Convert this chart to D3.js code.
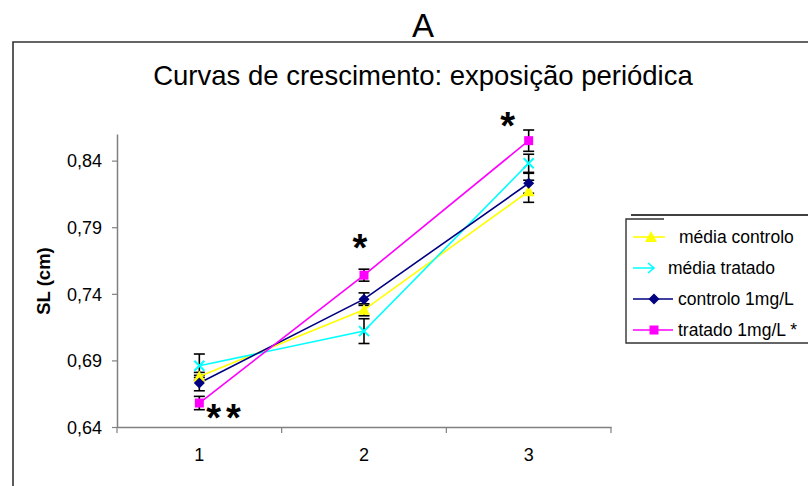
<!DOCTYPE html>
<html><head><meta charset="utf-8">
<script src="https://cdn.jsdelivr.net/npm/d3@7"></script>
<style>
html,body{margin:0;padding:0;background:#fff;}
svg{display:block;font-family:"Liberation Sans",Arial,sans-serif;}
</style></head>
<body><svg id="c" width="808" height="486"></svg>
<script>
const categories = ["1","2","3"];
const yTicks = [0.64,0.69,0.74,0.79,0.84];
const seriesNames = ["média controlo","média tratado","controlo 1mg/L","tratado 1mg/L *"];
const mediaControlo = [0.678,0.728,0.817];
const mediaTratado  = [0.686,0.712,0.838];
const controlo1     = [0.673,0.736,0.823];
const tratado1      = [0.658,0.754,0.855];
const errControlo   = [0.003,0.0045,0.0083];
const errTratado    = [0.0088,0.0093,0.0068];
const errControlo1  = [0.0058,0.0047,0.0075];
const errTratado1   = [0.005,0.0045,0.008];
const signifLabels = ["**","*","*"];

const colors = ["#FFFF00","#00FFFF","#000080","#FF00FF"];
const markers = ["triangle","x","diamond","square"];
const values = [mediaControlo,mediaTratado,controlo1,tratado1];
const errs = [errControlo,errTratado,errControlo1,errTratado1];

const svg = d3.select("#c");
const x = d3.scaleBand().domain(categories).range([117,611]);
const y = d3.scaleLinear().domain([0.64,0.86]).range([427,134]);
const cx = c => x(c)+x.bandwidth()/2;

// outer frame
svg.append("path").attr("d","M13,490 L13,42 L812,42").attr("fill","none").attr("stroke","#333").attr("stroke-width",1.6);
// "A"
svg.append("text").attr("x",423).attr("y",37).attr("text-anchor","middle").attr("font-size",33).text("A");
// title
svg.append("text").attr("x",423).attr("y",85).attr("text-anchor","middle").attr("font-size",27.5).text("Curvas de crescimento: exposição periódica");

// axes
const fmt = d => d3.format(".2f")(d).replace(".",",");
const yAx = svg.append("g").attr("transform","translate(117,0)")
  .call(d3.axisLeft(y).tickValues(yTicks).tickFormat(fmt).tickSize(5).tickSizeOuter(0));
const xAx = svg.append("g").attr("transform","translate(0,427)")
  .call(d3.axisBottom(x).tickSize(0).tickSizeOuter(0));
[yAx,xAx].forEach(a=>{a.select(".domain").attr("stroke","#808080").attr("stroke-width",1.5);
  a.selectAll(".tick line").attr("stroke","#808080").attr("stroke-width",1.2);
  a.selectAll("text").attr("font-family","Liberation Sans, Arial").attr("font-size",18).attr("fill","#000");});
yAx.selectAll("text").attr("x",-15).attr("dy","0.35em");
xAx.selectAll("text").attr("y",21).attr("dy","0.71em");
// x tick marks at band boundaries
const bounds = categories.map(c=>x(c)).concat([x(categories[2])+x.bandwidth()]);
svg.append("g").selectAll("line").data(bounds).join("line")
  .attr("x1",d=>d).attr("x2",d=>d).attr("y1",427).attr("y2",433)
  .attr("stroke","#808080").attr("stroke-width",1.2);

// y label
svg.append("text").attr("transform","translate(50,281) rotate(-90)").attr("text-anchor","middle")
  .attr("font-size",18.5).attr("font-weight","bold").text("SL (cm)");

// error bars
errs.forEach((e,si)=>{
  const g = svg.append("g").attr("stroke","#000").attr("stroke-width",1.6);
  categories.forEach((c,i)=>{
    const v = values[si][i], lo=y(v-e[i]), hi=y(v+e[i]), X=cx(c);
    g.append("line").attr("x1",X).attr("x2",X).attr("y1",lo).attr("y2",hi);
    g.append("line").attr("x1",X-5.5).attr("x2",X+5.5).attr("y1",lo).attr("y2",lo);
    g.append("line").attr("x1",X-5.5).attr("x2",X+5.5).attr("y1",hi).attr("y2",hi);
  });
});

// lines
const line = d3.line().x((d,i)=>cx(categories[i])).y(d=>y(d));
values.forEach((v,si)=>{
  svg.append("path").datum(v).attr("d",line).attr("fill","none").attr("stroke",colors[si]).attr("stroke-width",1.6);
});

function drawMarker(g,type,X,Y,col){
  if(type==="triangle") g.append("path").attr("d",`M${X},${Y-6} L${X+6},${Y+5} L${X-6},${Y+5} Z`).attr("fill",col);
  else if(type==="square") g.append("rect").attr("x",X-4.5).attr("y",Y-4.5).attr("width",9).attr("height",9).attr("fill",col);
  else if(type==="diamond") g.append("path").attr("d",`M${X},${Y-5.5} L${X+5.5},${Y} L${X},${Y+5.5} L${X-5.5},${Y} Z`).attr("fill",col);
  else if(type==="x") g.append("path").attr("d",`M${X-5},${Y-5} L${X+5},${Y+5} M${X-5},${Y+5} L${X+5},${Y-5}`).attr("stroke",col).attr("stroke-width",2);
}
values.forEach((v,si)=>{
  const g = svg.append("g");
  v.forEach((d,i)=>drawMarker(g,markers[si],cx(categories[i]),y(d),colors[si]));
});

// significance asterisks (anchored to the "tratado 1mg/L" points)
const sigOff = [[7,10],[-4,-32],[-21,-20]];
categories.forEach((c,i)=>{
  const X = cx(c)+sigOff[i][0];
  const Yc = y(tratado1[i])+sigOff[i][1];
  svg.append("text").attr("x",X).attr("y",Yc+18).attr("text-anchor",i===0?"start":"middle")
    .attr("font-size",38).attr("font-weight","bold").attr("letter-spacing",i===0?5:0).text(signifLabels[i]);
});

// legend
const lg = svg.append("g");
lg.append("path").attr("d","M631,215 L812,215").attr("stroke","#000").attr("stroke-width",1.4);
lg.append("path").attr("d","M664,219 L626,219 L626,343 L812,343").attr("fill","none").attr("stroke","#333").attr("stroke-width",1.4);
const legY = [237,268,299,330];
seriesNames.forEach((n,i)=>{
  const Y = legY[i];
  if(i===1){
    lg.append("path").attr("d",`M633,${Y} L654,${Y} M648,${Y-5} L654,${Y} L648,${Y+5}`).attr("fill","none").attr("stroke",colors[i]).attr("stroke-width",1.6);
  } else {
    const x2 = i===0 ? 665 : 673;
    lg.append("line").attr("x1",633).attr("x2",x2).attr("y1",Y).attr("y2",Y).attr("stroke",colors[i]).attr("stroke-width",1.6);
    drawMarker(lg,markers[i], i===0?651:654, Y, colors[i]);
  }
  const tx = i===0?679:(i===1?668:678);
  lg.append("text").attr("x",tx).attr("y",Y).attr("dy","0.35em").attr("font-size",17.5).text(n);
});
</script></body></html>
